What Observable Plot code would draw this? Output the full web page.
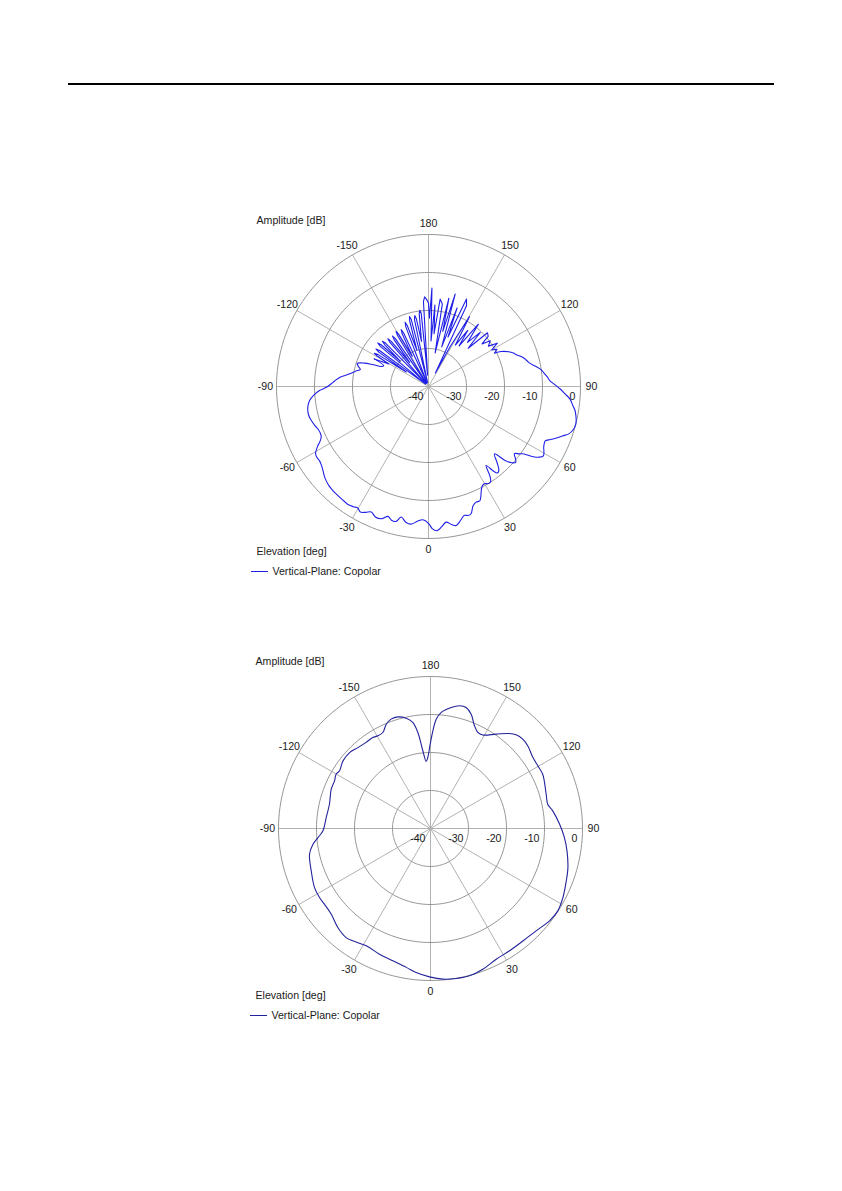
<!DOCTYPE html>
<html><head><meta charset="utf-8">
<script src="https://cdn.jsdelivr.net/npm/d3@7"></script>
<script src="https://cdn.jsdelivr.net/npm/@observablehq/plot@0.6"></script>
<style>
body{margin:0;background:#fff;}
#page{position:relative;width:842px;height:1191px;background:#fff;font-family:"Liberation Sans",Arial,sans-serif;color:#1a1a1a;overflow:hidden;}
.t{position:absolute;font-size:10.6px;line-height:12px;white-space:nowrap;}
.rule{position:absolute;left:68px;top:83px;width:706px;height:2px;background:#000;}
.chart{position:absolute;}
.leg{position:absolute;height:1px;}
</style></head><body><div id="page"><div class="rule"></div></div>
<script>
// ---- data ----
const ringDb = [-30, -20, -10, 0];
const dbTickLabels = [-40, -30, -20, -10, 0];
const spokeAngles = [0, 30, 60, 90, 120, 150, 180, 210, 240, 270, 300, 330];
const angleTickLabels = [0, 30, 60, 90, 120, 150, 180, -150, -120, -90, -60, -30];
const titleY = "Amplitude [dB]";
const titleX = "Elevation [deg]";
const seriesName = "Vertical-Plane: Copolar";

// [elevation deg, amplitude dB]
// back-lobe region, 116.8 .. 180 then -180 .. -117
const pattern1Lobes = [
[116.8,-20.5],[118.5,-19.5],[120,-20.8],[122.2,-18.6],[124,-21],[126.5,-19.8],[128.5,-22],[130,-19.5],
[132.3,-19],[134,-25.5],[136.3,-20.3],[138.5,-24.5],[141.3,-19],[143,-26.6],[145,-22],[147,-27],
[149.6,-18.7],[151.5,-28],[153,-36],[154.8,-16.5],[156.5,-14.9],[158.5,-26],[160,-18],[161.5,-29],
[163.9,-14.7],[165.5,-25],[167,-16.2],[168.8,-31],[170.5,-18],[172.4,-16.8],[174,-26],[175.5,-18.5],
[176.8,-28],[178,-14.1],[179.2,-22],[180,-18],
[-180,-18],[-178.6,-17],[-177.5,-16.4],[-176.6,-17.6],[-175.4,-37],
[-174.3,-20.6],[-173.5,-19.8],[-172.7,-20.8],[-171.2,-28],
[-169.8,-21.8],[-169,-21],[-168.2,-22],[-166.8,-39],
[-165.6,-21.8],[-164.8,-20.9],[-164,-22],[-162.3,-30],
[-160.8,-23],[-160,-22],[-159.2,-23.2],[-157.2,-39],
[-155.1,-24.4],[-154.3,-23.4],[-153.5,-24.5],[-151.8,-31],
[-150.3,-24.2],[-149.5,-23.2],[-148.7,-24.3],[-146.9,-39],
[-145.3,-24.6],[-144.5,-23.7],[-143.7,-24.7],[-141.9,-32],
[-140.4,-24.5],[-139.6,-23.5],[-138.8,-24.6],[-136.9,-39],
[-135.3,-24],[-134.5,-23],[-133.7,-24.1],[-131.9,-30],
[-131.4,-23.4],[-130.6,-22.4],[-129.8,-23.5],[-127.9,-39],
[-126.3,-24],[-125.5,-23],[-124.7,-24.1],[-123.2,-33],
[-122.3,-24.3],[-121.5,-23.3],[-120.7,-24.3],[-119.5,-28],[-117,-24]
];
// main-beam region, -117 .. 116.8
const pattern1Main = [
[-117,-24],[-115,-27],[-113,-26.5],[-111.5,-24.4],[-110,-22],[-108,-20.3],
[-106,-20.8],[-104,-21.5],[-102,-20.5],[-100,-19.5],[-98,-18.2],[-96,-16.6],[-93.5,-15.3],[-91.6,-14.4],
[-89.4,-13],[-87.9,-11.3],[-85.5,-9.6],[-83.3,-8.5],[-81,-7.9],[-78.7,-7.6],[-76,-7.6],[-73.8,-7.9],
[-71,-8.4],[-69.1,-8.8],[-66.5,-9],[-64.8,-8.8],[-63,-7.9],[-61.9,-7],[-59.2,-5.4],[-57.5,-5.2],
[-55.8,-5.3],[-53.5,-5],[-51.5,-4.5],[-49.5,-3.9],[-47.4,-3.4],[-45,-3],[-42.6,-2.8],[-40,-2.7],
[-37.9,-2.6],[-36,-2.5],[-34.3,-2.4],[-32,-2.7],[-30.2,-3],[-28.5,-2.4],[-26.5,-3],[-24.5,-3.7],
[-22,-2.9],[-19.5,-3.1],[-17.3,-4.2],[-15.5,-3.5],[-13.5,-3.5],[-11.8,-4.9],[-9.5,-3.8],[-7.2,-3.5],
[-4.5,-4.5],[-2.4,-4.9],[0,-4],[1.5,-2.6],[3.5,-2],[5.5,-3],[7.4,-4],[9.5,-3.2],[11.3,-2.7],
[13.5,-3.8],[15.6,-4.8],[17,-4.5],[18.5,-4.7],[20.5,-6.5],[22.4,-7.1],[24.1,-7],[25.5,-8],[26.9,-9.3],
[28.5,-10.3],[29.9,-10.5],[31.5,-10],[33,-10],[34.5,-11.5],[36.1,-14.3],[37.5,-12],[38.5,-10.9],
[40,-11.2],[42,-13],[44.4,-15.2],[46,-12],[47.5,-10.3],[49,-9.6],[50.5,-10.4],[52,-11.3],[53.5,-10.2],
[54.5,-9.5],[56.2,-6.8],[57.5,-5.4],[58.9,-4.7],[60.5,-5.1],[62.1,-5.7],[63.5,-6],[65,-6.1],[66.5,-5],
[68.3,-3.5],[70,-2.2],[71.2,-1.1],[73.6,-0.2],[75.5,0],[76.9,-0.1],[78.5,-0.4],[80.6,-0.9],[82.5,-1.7],
[84.9,-2.6],[86.9,-4],[88.9,-5.3],[90.5,-6.5],[92.7,-8],[94.5,-8.6],[96.9,-9.5],[98.4,-10],[100.5,-11.2],
[103,-12.7],[105,-13.3],[106.9,-13.9],[109.9,-15.4],[111.5,-16],[113.4,-17],[115.7,-18.8],[116.8,-20.5]
];

const pattern2 = [
[-179.8,-17.8],[-177.8,-21.3],[-176.3,-22.3],[-174.4,-19.5],[-172.5,-14.5],[-170.5,-11.7],[-167.6,-10.3],
[-163.7,-9.4],[-160.2,-9.4],[-157,-10.2],[-153.6,-11.8],[-150.4,-11.95],[-147.6,-11.65],[-143.2,-11.7],
[-138.1,-11.4],[-133.2,-10.8],[-127.7,-10.9],[-122.4,-11.65],[-119.9,-11.35],[-116.4,-11.8],[-111.6,-11.9],
[-103.5,-12.65],[-96,-12.4],[-88.8,-11.7],[-85.4,-10.3],[-82.4,-8.8],[-78,-7.45],[-70.5,-6.7],[-63,-5.75],
[-58.1,-5.6],[-54.5,-5.7],[-49.2,-5.5],[-43.1,-4.3],[-37.7,-3.7],[-34.7,-4.05],[-28.7,-4.8],[-22.1,-4.3],
[-15.9,-3.8],[-9.9,-2.9],[-5.7,-1.9],[-0.4,-0.96],[4.7,-0.22],[9.7,0.05],[14.8,0.1],[20.4,-0.5],
[26.7,-1.5],[32.9,-1.7],[39.4,-1.7],[45.9,-1.3],[52.2,-0.36],[57.1,-0.1],[62.5,-0.7],[68.9,-1.7],
[74.1,-2.4],[80.7,-3.6],[86.2,-4.7],[91.9,-6],[98.2,-7.5],[101.7,-8.5],[106.5,-8.25],[115.8,-7.2],
[120.3,-7.3],[124.8,-7.2],[130.3,-6.4],[134.1,-6.2],[137.6,-6.6],[140.3,-7.5],[145.2,-9.75],[150.8,-11.8],
[153.8,-11.8],[156.8,-10.6],[160.4,-8.1],[163.6,-6.8],[166.7,-6.8],[170.3,-7.7],[174.7,-9.3],[177,-11.2],
[178.6,-14.3]
];

// ---- drawing ----
const MIN = -40;               // centre of the plot
const PX = 3.8;                // pixels per dB
const SIZE = 360;              // svg size
const HALF = SIZE / 2 / PX;    // half extent in dB units
const OUTER = 0 - MIN;         // outer ring radius (0 dB)
const LABEL_R = 163 / PX;
const rad = (a) => a * Math.PI / 180;
const px = (a, r) => r * Math.sin(rad(a));
const py = (a, r) => -r * Math.cos(rad(a));
const toPts = (arr) => arr.map(([a, db]) => ({a, r: Math.max(0, db - MIN)}));

function polarChart(series, color) {
  const ringPts = [];
  for (const lv of ringDb) for (let a = 0; a <= 360; a += 2) ringPts.push({lv, a, r: lv - MIN});
  return Plot.plot({
    width: SIZE, height: SIZE, margin: 0,
    x: {domain: [-HALF, HALF], axis: null},
    y: {domain: [-HALF, HALF], axis: null},
    style: {fontFamily: "'Liberation Sans', Arial, sans-serif", fontSize: "10.6px", background: "transparent", overflow: "visible", color: "#1a1a1a"},
    marks: [
      Plot.link(spokeAngles, {x1: () => 0, y1: () => 0, x2: (a) => px(a, OUTER), y2: (a) => py(a, OUTER), stroke: "#a9a9a9", strokeWidth: 0.9}),
      Plot.line(ringPts, {x: (d) => px(d.a, d.r), y: (d) => py(d.a, d.r), z: "lv", stroke: "#8a8a8a", strokeWidth: 0.9}),
      Plot.text(angleTickLabels, {x: (a) => px(a, LABEL_R), y: (a) => py(a, LABEL_R), text: (a) => String(a), fill: "#1a1a1a", fontSize: 10.6}),
      Plot.text(dbTickLabels, {x: (v) => v - MIN, y: () => 0, text: (v) => String(v), textAnchor: "end", dx: -5, dy: 10, fill: "#1a1a1a", fontSize: 10.6}),
      ...series.map(({data, curve}) =>
        Plot.line(toPts(data), {x: (d) => px(d.a, d.r), y: (d) => py(d.a, d.r), stroke: color, strokeWidth: 1.1, curve}))
    ]
  });
}

const page = document.getElementById("page");
function place(el, left, top) { el.style.position = "absolute"; el.style.left = left + "px"; el.style.top = top + "px"; page.appendChild(el); }
function text(str, left, cy) { const d = document.createElement("div"); d.className = "t"; d.textContent = str; place(d, left, cy - 6.5); }
function legend(left, cy, color, textLeft) {
  const l = document.createElement("div"); l.className = "leg"; l.style.width = "17px"; l.style.background = color; place(l, left, cy - 0.5);
  text(seriesName, textLeft, cy);
}

const charts = [
  {series: [{data: pattern1Lobes, curve: "linear"}, {data: pattern1Main, curve: "catmull-rom"}], color: "#1f1fe6", cx: 428.3, cy: 385.7, ty: 220.7, ey: 551.7, ly: 571.7, tx: 256.5},
  {series: [{data: pattern2, curve: "catmull-rom-closed"}], color: "#22229a", cx: 430.3, cy: 828.3, ty: 661.7, ey: 995, ly: 1015, tx: 255.5}
];
for (const c of charts) {
  const svg = polarChart(c.series, c.color);
  svg.classList.add("chart");
  place(svg, c.cx - SIZE / 2, c.cy - SIZE / 2);
  text(titleY, c.tx, c.ty);
  text(titleX, c.tx, c.ey);
  legend(c.tx - 6, c.ly, c.color, c.tx + 16);
}
</script>
</body></html>
